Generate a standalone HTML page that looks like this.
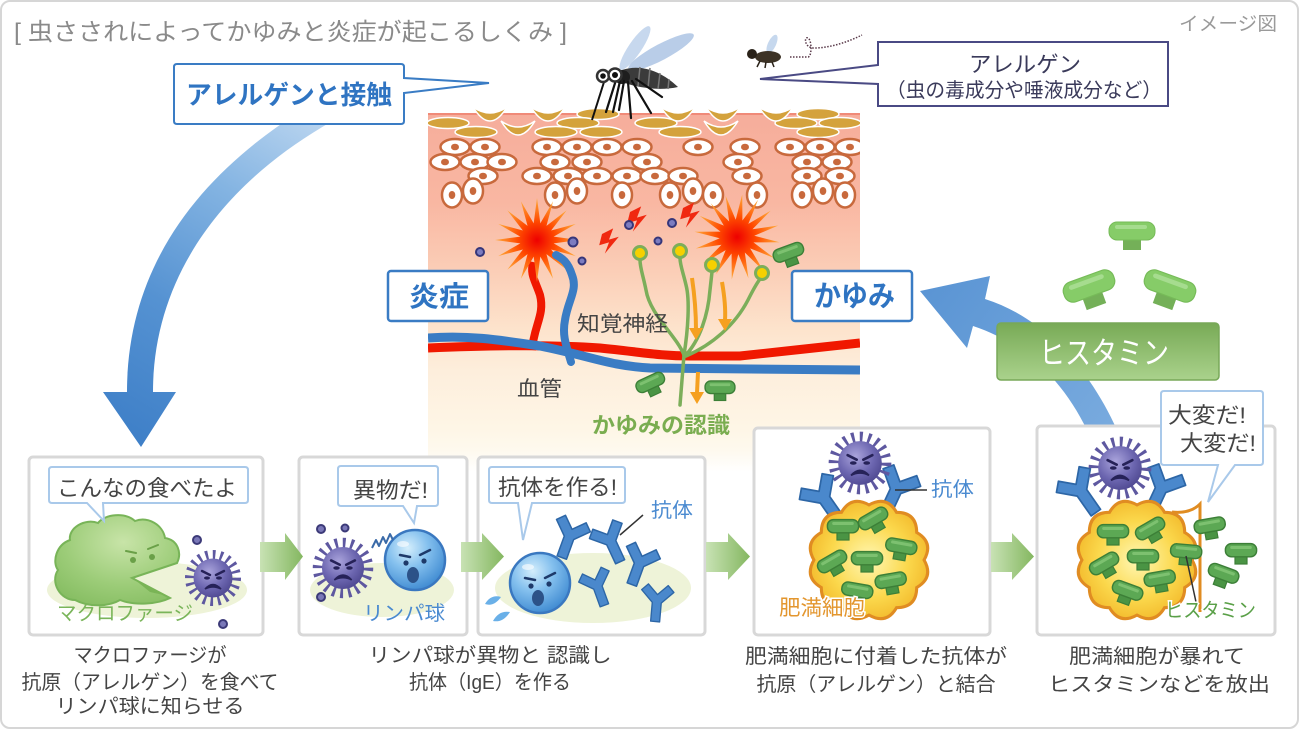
<!DOCTYPE html>
<html><head><meta charset="utf-8">
<style>
html,body{margin:0;padding:0;background:#fff;}
svg{display:block;}
text{font-family:"Liberation Sans","Noto Sans CJK JP",sans-serif;}
</style></head><body>
<svg width="1300" height="730" viewBox="0 0 1300 730" xmlns="http://www.w3.org/2000/svg">
<defs>
<linearGradient id="skinG" x1="0" y1="113" x2="0" y2="472" gradientUnits="userSpaceOnUse">
<stop offset="0" stop-color="#f6ad9b"/><stop offset="0.25" stop-color="#f9b7a2"/><stop offset="0.45" stop-color="#fbcfb8"/><stop offset="0.6" stop-color="#fde3cc"/><stop offset="0.72" stop-color="#fdeedc"/><stop offset="0.88" stop-color="#fef6e6"/><stop offset="0.94" stop-color="#fef9ee"/><stop offset="1" stop-color="#ffffff"/>
</linearGradient>
<linearGradient id="arrL" x1="330" y1="120" x2="140" y2="440" gradientUnits="userSpaceOnUse">
<stop offset="0" stop-color="#bcd6f0"/><stop offset="0.3" stop-color="#84b4e2"/><stop offset="0.65" stop-color="#5592d2"/><stop offset="1" stop-color="#3f80c8"/>
</linearGradient>
<linearGradient id="arrR" x1="930" y1="290" x2="1110" y2="425" gradientUnits="userSpaceOnUse">
<stop offset="0" stop-color="#5b95d4"/><stop offset="1" stop-color="#78aade"/>
</linearGradient>
<radialGradient id="burstG"><stop offset="0" stop-color="#ee0000"/><stop offset="0.45" stop-color="#ff4a00"/><stop offset="1" stop-color="#ffae3c"/></radialGradient>
<linearGradient id="histG" x1="0" y1="0" x2="0" y2="1"><stop offset="0" stop-color="#78aa56"/><stop offset="1" stop-color="#aad28c"/></linearGradient>
<linearGradient id="grA" x1="0" y1="0" x2="1" y2="0"><stop offset="0" stop-color="#c8e2b4"/><stop offset="1" stop-color="#84b760"/></linearGradient>
<radialGradient id="lymG" cx="0.38" cy="0.3" r="0.75"><stop offset="0" stop-color="#d4eefc"/><stop offset="0.45" stop-color="#84c0ee"/><stop offset="1" stop-color="#3c88d0"/></radialGradient>
<radialGradient id="virG" cx="0.4" cy="0.35" r="0.7"><stop offset="0" stop-color="#aaa4dc"/><stop offset="0.6" stop-color="#6c66b0"/><stop offset="1" stop-color="#4e4890"/></radialGradient>
<radialGradient id="mastG" cx="0.5" cy="0.5" r="0.55"><stop offset="0" stop-color="#fff7b4"/><stop offset="0.6" stop-color="#fbd84c"/><stop offset="1" stop-color="#f2b82a"/></radialGradient>
<radialGradient id="macG" cx="0.55" cy="0.3" r="0.8"><stop offset="0" stop-color="#c8e4a8"/><stop offset="0.6" stop-color="#9ccc78"/><stop offset="1" stop-color="#84bc60"/></radialGradient>
<clipPath id="skinClip"><rect x="428" y="95" width="432" height="380"/></clipPath>
<clipPath id="c5"><rect x="1060" y="480" width="141" height="160"/></clipPath>

<g id="cellH"><ellipse rx="14.5" ry="8" fill="#fff" stroke="#c8693c" stroke-width="2.5"/><ellipse rx="4" ry="3.3" fill="#c8693c"/></g>
<g id="cellV"><ellipse rx="10" ry="12.5" fill="#fff" stroke="#c8693c" stroke-width="2.5"/><ellipse rx="3.3" ry="4" fill="#c8693c"/></g>
<ellipse id="gold" rx="21" ry="5.5" fill="#d4a23c" stroke="#fff" stroke-width="1.5"/>
<path id="cres" d="M-17,-6 Q0,22 17,-6 Q0,6 -17,-6 Z" fill="#d4a23c" stroke="#fff" stroke-width="1.5"/>
<polygon id="burst" fill="url(#burstG)" points="42,0 16.67,3.32 38.8,16.07 14.14,9.45 29.7,29.7 9.45,14.14 16.07,38.8 3.32,16.67 0,42 -3.32,16.67 -16.07,38.8 -9.45,14.14 -29.7,29.7 -14.14,9.45 -38.8,16.07 -16.67,3.32 -42,0 -16.67,-3.32 -38.8,-16.07 -14.14,-9.45 -29.7,-29.7 -9.45,-14.14 -16.07,-38.8 -3.32,-16.67 0,-42 3.32,-16.67 16.07,-38.8 9.45,-14.14 29.7,-29.7 14.14,-9.45 38.8,-16.07 16.67,-3.32"/>
<path id="bolt" d="M0,0 L8,-4 L5,4 L12,2 L2,14 L5,6 L-2,8 Z" fill="#f02810"/>
<g id="hm"><rect x="-5" y="2" width="10" height="8" fill="#4a9444" stroke="#3c7f37" stroke-width="1"/><rect x="-13" y="-7" width="26" height="11" rx="5" fill="#5ca854" stroke="#3c7f37" stroke-width="1.2"/><rect x="-9" y="-5" width="18" height="2.5" rx="1" fill="#8ccc7c" opacity="0.7"/></g>
<g id="hl"><rect x="-9" y="6" width="18" height="13" fill="#74b058"/><rect x="-23" y="-9" width="46" height="18" rx="8" fill="#86cc68" stroke="#76bb58" stroke-width="1"/><rect x="-17" y="-6" width="32" height="4" rx="2" fill="#b4e2a0" opacity="0.7"/></g>
<path id="ab" d="M-5,24 L-5,3 L-18,-10 L-11,-17 L0,-6 L11,-17 L18,-10 L5,3 L5,24 Z" fill="#4a88cc" stroke="#2d66a6" stroke-width="1.5" stroke-linejoin="round"/>
<g id="vir">
<circle r="23" fill="none" stroke="#5e58a0" stroke-width="10" stroke-dasharray="2.6 4.6"/>
<circle r="19.5" fill="url(#virG)"/>
<path d="M-11,-7 L-3,-3 M11,-7 L3,-3" stroke="#262258" stroke-width="2.4" stroke-linecap="round"/>
<ellipse cx="-6" cy="0" rx="3" ry="1.6" fill="#262258"/><ellipse cx="6" cy="0" rx="3" ry="1.6" fill="#262258"/>
<path d="M-8,11 Q0,2 8,11 Q0,7 -8,11 Z" fill="#262258" stroke="#262258" stroke-width="1.5"/>
</g>
<g id="lym">
<circle r="30" fill="url(#lymG)" stroke="#3a78c0" stroke-width="2.5"/>
<ellipse cx="-12" cy="-16" rx="6" ry="3" fill="#fff" opacity="0.6"/>
<path d="M-15,-5 L-5,-3 M5,-5 L15,-10" stroke="#1e3a6a" stroke-width="2.5" stroke-linecap="round"/>
<circle cx="-9" cy="3" r="2.6" fill="#1e3a6a"/><circle cx="9" cy="1" r="2.6" fill="#1e3a6a"/>
<ellipse cx="-2" cy="15" rx="6" ry="8" fill="#2c5288"/>
</g>
<path id="mastP" d="M54,0 Q63.75,17.08 46.77,27 Q46.67,46.67 27,46.77 Q17.08,63.75 0,54 Q-17.08,63.75 -27,46.77 Q-46.67,46.67 -46.77,27 Q-63.75,17.08 -54,0 Q-63.75,-17.08 -46.77,-27 Q-46.67,-46.67 -27,-46.77 Q-17.08,-63.75 0,-54 Q17.08,-63.75 27,-46.77 Q46.67,-46.67 46.77,-27 Q63.75,-17.08 54,0 Z"/>
</defs>

<rect x="1" y="1" width="1297" height="727" rx="9" fill="#fff" stroke="#d6d6d6" stroke-width="2"/>

<text x="14" y="40" font-size="24" fill="#8a8a8a" textLength="553" lengthAdjust="spacingAndGlyphs">[ 虫さされによってかゆみと炎症が起こるしくみ ]</text>
<text x="1179" y="30" font-size="19" fill="#9a9a9a" textLength="98" lengthAdjust="spacingAndGlyphs">イメージ図</text>

<!-- skin panel -->
<rect x="428" y="113" width="432" height="360" fill="url(#skinG)"/>
<g clip-path="url(#skinClip)">
<line x1="428" y1="114" x2="860" y2="114" stroke="#f08a78" stroke-width="2"/>
<use href="#gold" x="598" y="114"/><use href="#gold" x="818" y="114"/>
<use href="#gold" x="448" y="123"/><use href="#gold" x="578" y="123"/><use href="#gold" x="656" y="123"/><use href="#gold" x="796" y="123"/><use href="#gold" x="840" y="123"/>
<use href="#gold" x="476" y="132"/><use href="#gold" x="556" y="132"/><use href="#gold" x="601" y="132"/><use href="#gold" x="680" y="132"/><use href="#gold" x="818" y="132"/>
<use href="#cres" x="490" y="113"/><use href="#cres" x="548" y="113"/><use href="#cres" x="678" y="113"/><use href="#cres" x="723" y="113"/><use href="#cres" x="776" y="113"/>
<use href="#cres" x="518" y="127"/><use href="#cres" x="721" y="127"/>

<use href="#cellH" x="455" y="147"/><use href="#cellH" x="485" y="147"/><use href="#cellH" x="547" y="147"/><use href="#cellH" x="577" y="147"/><use href="#cellH" x="607" y="147"/><use href="#cellH" x="637" y="147"/><use href="#cellH" x="698" y="147"/><use href="#cellH" x="745" y="147"/><use href="#cellH" x="790" y="147"/><use href="#cellH" x="820" y="147"/><use href="#cellH" x="850" y="147"/>
<use href="#cellH" x="445" y="162"/><use href="#cellH" x="475" y="162"/><use href="#cellH" x="502" y="162"/><use href="#cellH" x="555" y="162"/><use href="#cellH" x="587" y="162"/><use href="#cellH" x="647" y="162"/><use href="#cellH" x="738" y="162"/><use href="#cellH" x="807" y="162"/><use href="#cellH" x="837" y="162"/>
<use href="#cellH" x="483" y="176"/><use href="#cellH" x="537" y="176"/><use href="#cellH" x="568" y="176"/><use href="#cellH" x="597" y="176"/><use href="#cellH" x="627" y="176"/><use href="#cellH" x="655" y="176"/><use href="#cellH" x="683" y="176"/><use href="#cellH" x="747" y="176"/><use href="#cellH" x="807" y="176"/><use href="#cellH" x="840" y="176"/>
<use href="#cellV" x="452" y="195"/><use href="#cellV" x="555" y="195"/><use href="#cellV" x="622" y="195"/><use href="#cellV" x="670" y="195"/><use href="#cellV" x="713" y="195"/><use href="#cellV" x="757" y="195"/><use href="#cellV" x="802" y="195"/><use href="#cellV" x="845" y="195"/>
<use href="#cellV" x="473" y="191"/><use href="#cellV" x="577" y="191"/><use href="#cellV" x="693" y="191"/><use href="#cellV" x="823" y="191"/>

<!-- vessels -->
<path d="M428,348 C500,345 560,345 600,348 C640,352 660,356 690,356 L740,356 C780,352 820,347 860,343" stroke="#f01800" stroke-width="9" fill="none"/>
<path d="M532,350 C534,325 545,315 540,295 C535,280 530,275 533,262" stroke="#f01800" stroke-width="8" fill="none"/>
<path d="M428,338 C470,335 500,340 540,346 C590,356 610,366 650,368 L860,370" stroke="#3a7cc4" stroke-width="9" fill="none"/>
<use href="#burst" transform="translate(537,240)"/>
<use href="#burst" transform="translate(737,237) rotate(7) scale(1.02)"/>
<path d="M571,362 C566,345 562,335 565,320 C568,300 578,290 572,275 C568,262 562,258 556,255" stroke="#3a7cc4" stroke-width="8" fill="none" stroke-linecap="round"/>

<use href="#bolt" transform="translate(630,212) scale(1.4)"/>
<use href="#bolt" transform="translate(683,208) scale(1.4)"/>
<use href="#bolt" transform="translate(602,234) scale(1.4)"/>
<g fill="#7c7cc0" stroke="#36367a" stroke-width="2">
<circle cx="480" cy="252" r="4"/><circle cx="573" cy="242" r="4.5"/><circle cx="582" cy="261" r="3.5"/><circle cx="629" cy="225" r="4"/><circle cx="672" cy="223" r="4"/><circle cx="658" cy="241" r="3.5"/>
</g>

<!-- nerves -->
<g stroke="#7cae5a" stroke-width="3.5" fill="none" stroke-linecap="round">
<path d="M680,405 L684,355"/>
<path d="M684,355 C676,335 650,315 646,290 C643,275 640,268 640,260"/>
<path d="M684,355 C688,330 690,300 686,285 C683,272 680,265 680,258"/>
<path d="M685,356 C700,340 708,315 710,290 L712,272"/>
<path d="M686,356 C712,345 735,325 748,300 C753,290 757,283 760,279"/>
</g>
<g fill="#f6d000" stroke="#7cae5a" stroke-width="3">
<circle cx="640" cy="253" r="6.5"/><circle cx="680" cy="251" r="6.5"/><circle cx="712" cy="265" r="6.5"/><circle cx="762" cy="273" r="6.5"/>
</g>
<g stroke="#f5a020" stroke-width="4" fill="none">
<path d="M692,278 Q696,305 696,330"/><path d="M722,282 Q726,305 725,320"/><path d="M698,372 L697,393"/>
</g>
<g fill="#f5a020">
<polygon points="689,328 703,328 696,340"/><polygon points="718,319 732,319 725,331"/><polygon points="690,392 704,392 697,404"/>
</g>
<use href="#hm" transform="translate(651,384) rotate(-25) scale(1.15)"/>
<use href="#hm" transform="translate(720,389) scale(1.15)"/>
<use href="#hm" transform="translate(789,254) rotate(-20) scale(1.2)"/>
</g>

<text x="577" y="331" font-size="21" fill="#444" textLength="91" lengthAdjust="spacingAndGlyphs">知覚神経</text>
<text x="517" y="396" font-size="21" fill="#444" textLength="45" lengthAdjust="spacingAndGlyphs">血管</text>
<text x="592" y="433" font-size="22" font-weight="bold" fill="#7aad50" textLength="138" lengthAdjust="spacingAndGlyphs">かゆみの認識</text>

<!-- mosquito -->
<ellipse cx="635" cy="48" rx="26" ry="6.5" transform="rotate(-56 635 48)" fill="#c7d8ee"/>
<ellipse cx="661" cy="52" rx="37" ry="8" transform="rotate(-28 661 52)" fill="#b9cde8"/>
<path d="M622,70 C640,64 660,70 678,87 C660,91 638,88 622,82 Z" fill="#3b3b3b"/>
<path d="M640,67 L638,86 M650,68 L648,88 M660,73 L658,89 M669,79 L668,89" stroke="#777" stroke-width="1.5"/>
<ellipse cx="622" cy="77" rx="8" ry="7" fill="#1e1e1e"/>
<path d="M616,80 L606,112 M620,81 L613,112 M624,81 L619,110 M628,82 L631,118 M632,81 L651,113 M636,79 L662,97" stroke="#111" stroke-width="2.2" fill="none" stroke-linecap="round"/>
<path d="M604,82 L592,120" stroke="#111" stroke-width="2"/>
<circle cx="603" cy="76" r="6" fill="#fff" stroke="#333" stroke-width="2.5"/><circle cx="603" cy="76" r="2.8" fill="#111"/>
<circle cx="615" cy="75" r="6.5" fill="#fff" stroke="#333" stroke-width="2.5"/><circle cx="615" cy="75" r="3" fill="#111"/>
<!-- fly -->
<ellipse cx="772" cy="44" rx="4" ry="10" transform="rotate(25 772 44)" fill="#c6d8ee"/>
<ellipse cx="768" cy="57" rx="13" ry="6" fill="#3d3326"/>
<circle cx="752" cy="54" r="5" fill="#2a2219"/>
<path d="M760,61 L757,67 M766,62 L765,68 M772,62 L774,67" stroke="#2a2219" stroke-width="1.5"/>
<path d="M790,57 L808,57 C812,57 812,40 808,38 C804,36 804,48 814,48 C830,48 848,42 862,35" stroke="#5a3a4a" stroke-width="1.5" stroke-dasharray="1.5 1.5" fill="none"/>

<!-- left arrow -->
<path d="M290,118 C200,178 127,265 127,392 L103,392 L141,447 L176,392 L153,392 C153,275 225,180 338,118 Z" fill="url(#arrL)"/>

<!-- callouts -->
<path d="M177,64 H401 Q404,64 404,67 V78 L489,83 L404,93 V121 Q404,124 401,124 H177 Q174,124 174,121 V67 Q174,64 177,64 Z" fill="#fff" stroke="#3a7cc4" stroke-width="2"/>
<text x="186" y="104" font-size="26" font-weight="bold" fill="#2f74c2" textLength="206" lengthAdjust="spacingAndGlyphs">アレルゲンと接触</text>
<path d="M878,42 H1168 V106 H878 V84 L760,79 L878,65 Z" fill="#fff" stroke="#4a4a84" stroke-width="2"/>
<text x="969" y="72" font-size="22" fill="#3a3a5a" textLength="112" lengthAdjust="spacingAndGlyphs">アレルゲン</text>
<text x="886" y="97" font-size="20" fill="#3a3a5a" textLength="276" lengthAdjust="spacingAndGlyphs">（虫の毒成分や唾液成分など）</text>

<rect x="388" y="271" width="100" height="50" rx="3" fill="#fff" stroke="#3a7cc4" stroke-width="2.5"/>
<text x="409" y="306" font-size="28" font-weight="bold" fill="#2f74c2" textLength="60" lengthAdjust="spacingAndGlyphs">炎症</text>
<rect x="792" y="271" width="120" height="50" rx="3" fill="#fff" stroke="#3a7cc4" stroke-width="2.5"/>
<text x="814" y="306" font-size="29" font-weight="bold" fill="#2f74c2" textLength="81" lengthAdjust="spacingAndGlyphs">かゆみ</text>

<!-- right arrow + histamine -->
<path d="M1087,430 C1065,385 1030,345 973,326 L967,348 L920,291 L990,276 L985,299 C1045,318 1090,370 1117,430 Z" fill="url(#arrR)"/>
<use href="#hl" transform="translate(1132,231)"/>
<use href="#hl" transform="translate(1089,286) rotate(-20) scale(1.15)"/>
<use href="#hl" transform="translate(1170,286) rotate(20) scale(1.15)"/>
<rect x="997" y="323" width="222" height="57" rx="4" fill="url(#histG)" stroke="#78a858" stroke-width="1.5"/>
<text x="1039" y="364" font-size="31" fill="#fff" textLength="130" lengthAdjust="spacingAndGlyphs">ヒスタミン</text>

<!-- bottom boxes -->
<g fill="#fff" stroke="#d8d8d8" stroke-width="3">
<rect x="29" y="457" width="234" height="178" rx="4"/>
<rect x="299" y="457" width="168" height="178" rx="4"/>
<rect x="478" y="457" width="227" height="178" rx="4"/>
<rect x="754" y="428" width="236" height="207" rx="4"/>
<rect x="1037" y="426" width="238" height="209" rx="4"/>
</g>

<!-- box1 -->
<ellipse cx="147" cy="590" rx="100" ry="28" fill="#eef3d8"/>
<path d="M132,578 L177,563 C182,553 178,540 165,538 C163,525 148,516 135,521 C125,512 105,514 98,523 C85,518 68,528 70,540 C56,545 52,562 58,570 C50,582 60,600 75,600 C90,608 110,606 120,600 C135,606 158,604 170,598 Z" fill="url(#macG)" stroke="#78b458" stroke-width="2"/>
<path d="M134,579 L168,596 L150,592 Z" fill="#7ab456"/>
<path d="M126,551 L136,553 M148,549 L158,545" stroke="#6aa048" stroke-width="2" stroke-linecap="round"/>
<circle cx="133" cy="560" r="3" fill="#6aa048"/><circle cx="152" cy="557" r="3" fill="#6aa048"/>
<use href="#vir" transform="translate(213,578)"/>
<g fill="#7a78b8" stroke="#3c3a78" stroke-width="2"><circle cx="197" cy="540" r="4"/><circle cx="223" cy="624" r="4"/></g>
<text x="57" y="620" font-size="20" fill="#7ab55a" textLength="136" lengthAdjust="spacingAndGlyphs">マクロファージ</text>
<path d="M52,467 H245 Q248,467 248,470 V500 Q248,503 245,503 H103 L104,521 L87,503 H52 Q49,503 49,500 V470 Q49,467 52,467 Z" fill="#fff" stroke="#a9c9ea" stroke-width="2"/>
<text x="57" y="496" font-size="22" fill="#444" textLength="180" lengthAdjust="spacingAndGlyphs">こんなの食べたよ</text>

<!-- box2 -->
<ellipse cx="382" cy="590" rx="72" ry="27" fill="#eef3d8"/>
<use href="#vir" transform="translate(343,568) scale(1.08)"/>
<g fill="#7a78b8" stroke="#3c3a78" stroke-width="2"><circle cx="321" cy="529" r="4"/><circle cx="345" cy="528" r="3.5"/><circle cx="321" cy="597" r="4"/></g>
<use href="#lym" transform="translate(415,560)"/>
<path d="M372,548 l4,-8 l3,6 l4,-9 l3,6 l4,-9 l3,6" stroke="#3a6aa8" stroke-width="2" fill="none" stroke-linejoin="round"/>
<text x="363" y="620" font-size="20" fill="#4a8ad0" textLength="82" lengthAdjust="spacingAndGlyphs">リンパ球</text>
<path d="M341,466 H435 Q438,466 438,469 V503 Q438,506 435,506 H417 L414,523 L403,506 H341 Q338,506 338,503 V469 Q338,466 341,466 Z" fill="#fff" stroke="#a9c9ea" stroke-width="2"/>
<text x="353" y="498" font-size="22" fill="#444" textLength="75" lengthAdjust="spacingAndGlyphs">異物だ!</text>

<!-- box3 -->
<ellipse cx="593" cy="588" rx="98" ry="35" fill="#eef3d8"/>
<use href="#ab" transform="translate(570,535) rotate(20)"/>
<use href="#ab" transform="translate(610,540) rotate(-25)"/>
<use href="#ab" transform="translate(640,562) rotate(20)"/>
<use href="#ab" transform="translate(597,585) rotate(-20) scale(0.9)"/>
<use href="#ab" transform="translate(657,600) rotate(5) scale(0.9)"/>
<use href="#lym" transform="translate(540,583)"/>
<path d="M485,604 Q491,594 501,597 Q494,607 485,604 Z M493,621 Q499,610 510,612 Q503,623 493,621 Z" fill="#6ab0e8"/>
<line x1="620" y1="535" x2="643" y2="515" stroke="#333" stroke-width="1.5"/>
<text x="651" y="517" font-size="20" fill="#4a8ad0" textLength="42" lengthAdjust="spacingAndGlyphs">抗体</text>
<path d="M492,467 H622 Q625,467 625,470 V500 Q625,503 622,503 H532 L523,540 L518,503 H492 Q489,503 489,500 V470 Q489,467 492,467 Z" fill="#fff" stroke="#a9c9ea" stroke-width="2"/>
<text x="498" y="495" font-size="22" fill="#444" textLength="119" lengthAdjust="spacingAndGlyphs">抗体を作る!</text>

<!-- box4 -->
<use href="#ab" transform="translate(823,497) rotate(-35) scale(1.15)"/>
<use href="#ab" transform="translate(897,488) rotate(25) scale(1.15)"/>
<use href="#mastP" fill="url(#mastG)" stroke="#e08c22" stroke-width="3" transform="translate(869,560) scale(1.02)"/>
<use href="#vir" transform="translate(860,463) scale(1.12)"/>
<use href="#hm" transform="translate(843,528) scale(1.2)"/>
<use href="#hm" transform="translate(874,520) rotate(-30) scale(1.2)"/>
<use href="#hm" transform="translate(901,548) rotate(10) scale(1.2)"/>
<use href="#hm" transform="translate(833,563) rotate(-30) scale(1.2)"/>
<use href="#hm" transform="translate(867,560) scale(1.2)"/>
<use href="#hm" transform="translate(891,582) rotate(-10) scale(1.2)"/>
<use href="#hm" transform="translate(857,592) rotate(10) scale(1.2)"/>
<line x1="895" y1="490" x2="927" y2="490" stroke="#333" stroke-width="1.5"/>
<text x="931" y="496" font-size="20" fill="#4a8ad0" textLength="43" lengthAdjust="spacingAndGlyphs">抗体</text>
<text x="779" y="615" font-size="21" fill="#e3962e" stroke="#fff" stroke-width="3" paint-order="stroke" textLength="86" lengthAdjust="spacingAndGlyphs">肥満細胞</text>

<!-- box5 -->
<use href="#ab" transform="translate(1080,490) rotate(-35) scale(1.15)"/>
<use href="#ab" transform="translate(1162,487) rotate(25) scale(1.15)"/>
<g clip-path="url(#c5)"><use href="#mastP" fill="url(#mastG)" stroke="#e08c22" stroke-width="3" transform="translate(1137,560) scale(1.02)"/></g>
<path d="M1172,512 Q1190,514 1200,504 L1200,612" stroke="#e08c22" stroke-width="3" fill="none"/>
<use href="#vir" transform="translate(1120,468) scale(1.12)"/>
<use href="#hm" transform="translate(1113,533) scale(1.2)"/>
<use href="#hm" transform="translate(1151,530) rotate(-30) scale(1.2)"/>
<use href="#hm" transform="translate(1186,553) rotate(5) scale(1.2)"/>
<use href="#hm" transform="translate(1105,565) rotate(-30) scale(1.2)"/>
<use href="#hm" transform="translate(1143,558) scale(1.2)"/>
<use href="#hm" transform="translate(1160,580) rotate(-10) scale(1.2)"/>
<use href="#hm" transform="translate(1127,592) rotate(20) scale(1.2)"/>
<use href="#hm" transform="translate(1210,527) rotate(-10) scale(1.2)"/>
<use href="#hm" transform="translate(1241,552) scale(1.2)"/>
<use href="#hm" transform="translate(1223,575) rotate(20) scale(1.2)"/>
<line x1="1186" y1="556" x2="1196" y2="602" stroke="#333" stroke-width="1.5"/>
<text x="1165" y="617" font-size="20" fill="#5aa048" stroke="#fff" stroke-width="3" paint-order="stroke" textLength="91" lengthAdjust="spacingAndGlyphs">ヒスタミン</text>
<path d="M1164,391 H1260 Q1263,391 1263,394 V462 Q1263,465 1260,465 H1235 L1208,502 L1218,465 H1164 Q1161,465 1161,462 V394 Q1161,391 1164,391 Z" fill="#fff" stroke="#a9c9ea" stroke-width="2"/>
<text x="1168" y="423" font-size="22" fill="#444" textLength="78" lengthAdjust="spacingAndGlyphs">大変だ!</text>
<text x="1180" y="451" font-size="22" fill="#444" textLength="76" lengthAdjust="spacingAndGlyphs">大変だ!</text>

<!-- green arrows -->
<path d="M260,542 H285 V533 L303,556.5 L285,580 V572 H260 Z" fill="url(#grA)"/>
<path d="M461,542 H482 V533 L504,556.5 L482,580 V572 H461 Z" fill="url(#grA)"/>
<path d="M706,542 H728 V533 L750,556.5 L728,580 V572 H706 Z" fill="url(#grA)"/>
<path d="M991,542 H1012 V533 L1034,556.5 L1012,580 V572 H991 Z" fill="url(#grA)"/>

<!-- captions -->
<g font-size="20" fill="#444" text-anchor="middle">
<text x="150" y="662" textLength="153" lengthAdjust="spacingAndGlyphs">マクロファージが</text>
<text x="150" y="689" textLength="257" lengthAdjust="spacingAndGlyphs">抗原（アレルゲン）を食べて</text>
<text x="150" y="713" textLength="189" lengthAdjust="spacingAndGlyphs">リンパ球に知らせる</text>
<text x="490" y="662" textLength="243" lengthAdjust="spacingAndGlyphs">リンパ球が異物と 認識し</text>
<text x="490" y="689" textLength="162" lengthAdjust="spacingAndGlyphs">抗体（IgE）を作る</text>
<text x="876" y="663" textLength="262" lengthAdjust="spacingAndGlyphs">肥満細胞に付着した抗体が</text>
<text x="876" y="691" textLength="239" lengthAdjust="spacingAndGlyphs">抗原（アレルゲン）と結合</text>
<text x="1157" y="663" textLength="176" lengthAdjust="spacingAndGlyphs">肥満細胞が暴れて</text>
<text x="1159" y="691" textLength="222" lengthAdjust="spacingAndGlyphs">ヒスタミンなどを放出</text>
</g>
</svg>
</body></html>
